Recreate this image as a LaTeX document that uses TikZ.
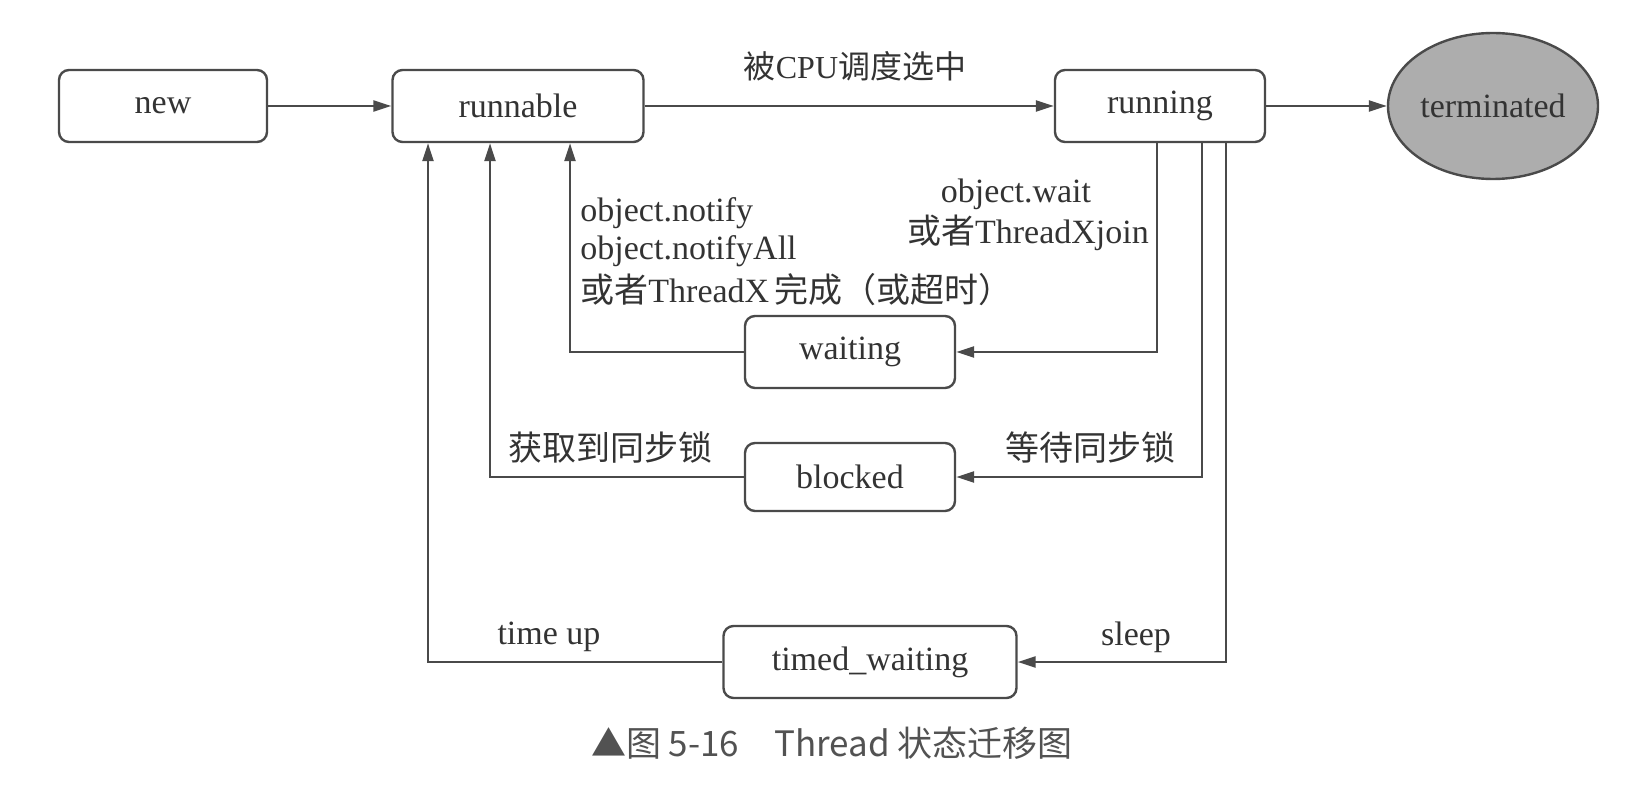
\documentclass[tikz,border=0pt]{standalone}
\usepackage{fontspec}
\setmainfont{Liberation Serif}
\newfontfamily\cjk{Noto Sans CJK SC}
\usetikzlibrary{arrows.meta,shapes.geometric}
\definecolor{ln}{HTML}{4A4A4A}
\definecolor{tx}{HTML}{333333}
\definecolor{termfill}{HTML}{ADADAD}
\begin{document}
\begin{tikzpicture}[x=0.5pt,y=-0.5pt,
  state/.style={draw=ln, line width=1.2pt, rounded corners=5pt, minimum height=36pt, text=tx, font=\fontsize{17}{20}\selectfont, inner sep=0pt},
  conn/.style={draw=ln, line width=1.2pt, -{Triangle[length=9pt,width=5.5pt]}},
  lbl/.style={text=tx, font=\fontsize{17}{20}\selectfont, inner sep=0pt}]
\useasboundingbox (0,0) rectangle (1645,791);
\node[state, minimum width=104pt] (new) at (163,106) {new};
\node[state, minimum width=125.5pt] (runnable) at (518,106) {runnable};
\node[state, minimum width=105pt] (running) at (1160,106) {running};
\node[draw=ln, line width=1.2pt, ellipse, fill=termfill, minimum width=105pt, minimum height=73pt, inner sep=0pt, text=tx, font=\fontsize{17}{20}\selectfont] (term) at (1493,106) {terminated};
\node[state, minimum width=105pt] (waiting) at (850,352) {waiting};
\node[state, minimum width=105pt, minimum height=34pt] (blocked) at (850,477) {blocked};
\node[state, minimum width=146.5pt] (timed) at (870,662) {timed\_waiting};

\coordinate (v1) at (428,0);
\coordinate (v2) at (490,0);
\coordinate (v3) at (570,0);
\coordinate (d1) at (1157,0);
\coordinate (d2) at (1202,0);
\coordinate (d3) at (1226,0);

\draw[conn] (new) -- (runnable);
\draw[conn] (runnable) -- (running);
\draw[conn] (running) -- (term);

\draw[conn] (running.south -| d1) |- (waiting.east);
\draw[conn] (running.south -| d2) |- (blocked.east);
\draw[conn] (running.south -| d3) |- (timed.east);

\draw[conn] (waiting.west) -| (runnable.south -| v3);
\draw[conn] (blocked.west) -| (runnable.south -| v2);
\draw[conn] (timed.west) -| (runnable.south -| v1);

\node[lbl, font=\fontsize{16}{19}\selectfont] (lcpu) at (855,66) {{\cjk 被}CPU{\cjk 调度选中}};
\node[lbl, anchor=west] (ln1) at (580,213) {object.notify};
\node[lbl, anchor=west] (ln2) at (580,251) {object.notifyAll};
\node[lbl, anchor=west] (ln3) at (580,290) {{\cjk 或者}ThreadX\,{\cjk 完成（或超时）}};
\node[lbl] (lw1) at (1016,194) {object.wait};
\node[lbl] (lw2) at (1028,233) {{\cjk 或者}ThreadXjoin};
\node[lbl] (lacq) at (610,448) {\cjk 获取到同步锁};
\node[lbl] (lwt) at (1090,448) {\cjk 等待同步锁};
\node[lbl] (ltu) at (549,637) {time up};
\node[lbl] (lsl) at (1136,637) {sleep};
\node[text=tx!85, font=\cjk\fontsize{17.5}{20}\selectfont, inner sep=0pt] (cap) at (832,743) {▲图 5-16\quad Thread 状态迁移图};
\end{tikzpicture}
\end{document}
